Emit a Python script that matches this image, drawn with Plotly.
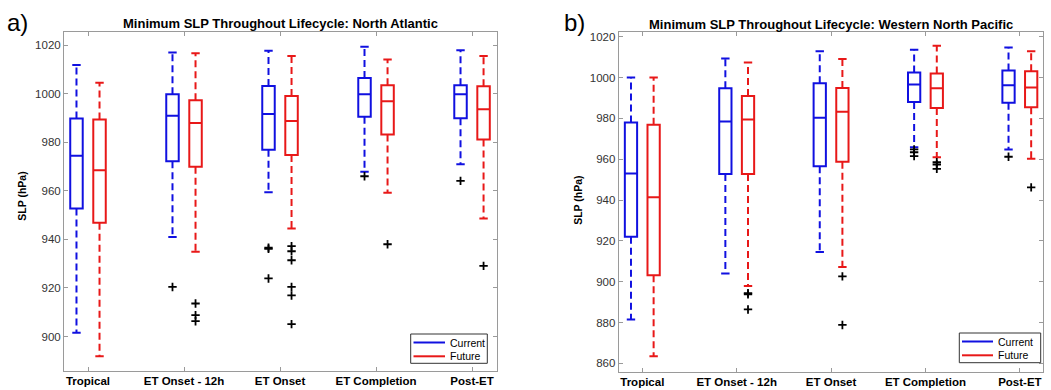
import plotly.graph_objects as go

categories = ["Tropical", "ET Onset - 12h", "ET Onset", "ET Completion", "Post-ET"]
series_names = ["Current", "Future"]
series_colors = ["#1010e0", "#e81818"]

# ---- North Atlantic ----
na_cur_lo = [901.5, 941.0, 959.4, 967.8, 970.9]
na_cur_q1 = [952.7, 972.2, 976.9, 990.5, 989.9]
na_cur_med = [974.4, 990.9, 991.6, 999.8, 999.8]
na_cur_q3 = [989.8, 999.8, 1003.2, 1006.5, 1003.5]
na_cur_hi = [1011.8, 1017.0, 1017.7, 1019.3, 1017.9]
na_cur_out = [[], [920.4], [936.6, 936.1, 923.9], [966.0], [964.1]]

na_fut_lo = [891.9, 934.9, 944.5, 959.2, 948.6]
na_fut_q1 = [946.8, 969.9, 974.7, 983.2, 981.1]
na_fut_med = [968.5, 987.9, 988.7, 996.9, 993.6]
na_fut_q3 = [989.4, 997.3, 999.0, 1003.5, 1003.1]
na_fut_hi = [1004.5, 1016.7, 1015.5, 1014.1, 1015.5]
na_fut_out = [[], [913.6, 908.8, 906.3], [937.2, 935.1, 931.4, 920.4, 916.9, 905.1], [938.0], [929.1]]

# ---- Western North Pacific ----
wnp_cur_lo = [881.5, 904.0, 914.5, 965.9, 964.8]
wnp_cur_q1 = [922.0, 952.8, 956.6, 988.0, 987.7]
wnp_cur_med = [953.0, 978.4, 980.3, 996.6, 996.2]
wnp_cur_q3 = [978.0, 994.8, 997.2, 1002.5, 1003.4]
wnp_cur_hi = [1000.0, 1009.3, 1012.9, 1013.6, 1014.7]
wnp_cur_out = [[], [], [], [964.8, 963.4, 961.5], [961.2]]

wnp_fut_lo = [863.5, 897.9, 907.2, 961.0, 960.2]
wnp_fut_q1 = [903.1, 952.8, 958.7, 985.1, 985.4]
wnp_fut_med = [941.3, 979.5, 983.2, 994.8, 995.1]
wnp_fut_q3 = [976.9, 991.0, 994.9, 1002.0, 1003.1]
wnp_fut_hi = [1000.0, 1007.4, 1009.1, 1015.6, 1012.9]
wnp_fut_out = [[], [894.4, 893.8, 886.4], [902.6, 878.8], [958.5, 957.4, 955.3], [946.2]]

na_ticks = [900, 920, 940, 960, 980, 1000, 1020]
wnp_ticks = [860, 880, 900, 920, 940, 960, 980, 1000, 1020]

W, H = 1051, 390
OFFSET = 0.12
BOXW = 0.13
FONT = "Liberation Sans, Arial, Helvetica, sans-serif"

fig = go.Figure()


def add_series(xa, ya, offset, color, lo, q1, med, q3, hi, out):
    pos = [i + 1 + offset for i in range(len(categories))]
    fig.add_trace(go.Box(
        x=pos, q1=q1, median=med, q3=q3, lowerfence=q1, upperfence=q3,
        width=BOXW, whiskerwidth=0, boxpoints=False,
        line=dict(color=color, width=2), fillcolor="rgba(255,255,255,0)",
        showlegend=False, hoverinfo="skip", xaxis=xa, yaxis=ya))
    wx, wy = [], []
    for p, a, b, c, d in zip(pos, lo, q1, q3, hi):
        wx += [p, p, None, p, p, None]
        wy += [c, d, None, b, a, None]
    fig.add_trace(go.Scatter(
        x=wx, y=wy, mode="lines", line=dict(color=color, width=2, dash="7px,4px"),
        showlegend=False, hoverinfo="skip", xaxis=xa, yaxis=ya))
    fig.add_trace(go.Scatter(
        x=pos + pos, y=list(lo) + list(hi), mode="markers",
        marker=dict(symbol="line-ew", size=6, line=dict(color=color, width=2)),
        showlegend=False, hoverinfo="skip", xaxis=xa, yaxis=ya))
    ox, oy = [], []
    for p, vals in zip(pos, out):
        for v in vals:
            ox.append(p)
            oy.append(v)
    fig.add_trace(go.Scatter(
        x=ox, y=oy, mode="markers",
        marker=dict(symbol="cross-thin", size=6, line=dict(color="black", width=1.8)),
        showlegend=False, hoverinfo="skip", xaxis=xa, yaxis=ya))


add_series("x", "y", -OFFSET, series_colors[0], na_cur_lo, na_cur_q1, na_cur_med, na_cur_q3, na_cur_hi, na_cur_out)
add_series("x", "y", OFFSET, series_colors[1], na_fut_lo, na_fut_q1, na_fut_med, na_fut_q3, na_fut_hi, na_fut_out)
add_series("x2", "y2", -OFFSET, series_colors[0], wnp_cur_lo, wnp_cur_q1, wnp_cur_med, wnp_cur_q3, wnp_cur_hi, wnp_cur_out)
add_series("x2", "y2", OFFSET, series_colors[1], wnp_fut_lo, wnp_fut_q1, wnp_fut_med, wnp_fut_q3, wnp_fut_hi, wnp_fut_out)


def px(x):
    return x / W


def py(y):
    return 1 - y / H


shapes = []
annotations = []
# manual legends (box, sample lines, labels), positioned in paper pixels
for (bx0, bx1, by0, by1, lx0, lx1) in [(410.7, 487.3, 334, 363.3, 413.5, 445.0),
                                       (959.3, 1040.7, 333, 362.7, 962.0, 993.0)]:
    shapes.append(dict(type="rect", xref="paper", yref="paper",
                       x0=px(bx0), x1=px(bx1), y0=py(by1), y1=py(by0),
                       line=dict(color="#333333", width=1), fillcolor="white", layer="above"))
    for k, (name, color) in enumerate(zip(series_names, series_colors)):
        ly = by0 + 8.5 + k * 13.8
        shapes.append(dict(type="line", xref="paper", yref="paper",
                           x0=px(lx0), x1=px(lx1), y0=py(ly), y1=py(ly),
                           line=dict(color=color, width=2), layer="above"))
        annotations.append(dict(text=name, x=px(lx1 + 3), y=py(ly), xref="paper", yref="paper",
                                xanchor="left", yanchor="middle", showarrow=False,
                                font=dict(size=10.5, color="black")))

axis_common = dict(showline=True, linecolor="#9a9a9a", linewidth=1, mirror="ticks",
                   ticks="inside", ticklen=4, tickcolor="#9a9a9a", showgrid=False,
                   zeroline=False)

annotations += [
    dict(text="<b>Minimum SLP Throughout Lifecycle: North Atlantic</b>", x=px(280.5), y=py(23.5),
         xref="paper", yref="paper", xanchor="center", yanchor="middle", showarrow=False,
         font=dict(size=13, color="black")),
    dict(text="<b>Minimum SLP Throughout Lifecycle: Western North Pacific</b>", x=px(831), y=py(24),
         xref="paper", yref="paper", xanchor="center", yanchor="middle", showarrow=False,
         font=dict(size=13, color="black")),
    dict(text="a)", x=px(5), y=py(22), xref="paper", yref="paper", xanchor="left", yanchor="middle",
         showarrow=False, font=dict(size=24, color="black")),
    dict(text="b)", x=px(562), y=py(22), xref="paper", yref="paper", xanchor="left", yanchor="middle",
         showarrow=False, font=dict(size=24, color="black")),
    dict(text="<b>SLP (hPa)</b>", x=px(21.7), y=py(196), xref="paper", yref="paper",
         xanchor="center", yanchor="middle",
         textangle=-90, showarrow=False, font=dict(size=10.5, color="black")),
    dict(text="<b>SLP (hPa)</b>", x=px(578.3), y=py(200.5), xref="paper", yref="paper",
         xanchor="center", yanchor="middle",
         textangle=-90, showarrow=False, font=dict(size=10.5, color="black")),
]

fig.update_layout(
    width=W, height=H,
    margin=dict(l=0, r=0, t=0, b=0),
    paper_bgcolor="white", plot_bgcolor="white",
    boxmode="overlay", showlegend=False,
    font=dict(family=FONT, color="#262626"),
    xaxis=dict(domain=[px(64), px(497)], range=[0.75, 5.26],
               tickvals=[1, 2, 3, 4, 5], ticktext=["<b>%s</b>" % c for c in categories],
               tickfont=dict(size=11.5, color="black"), **axis_common),
    yaxis=dict(domain=[py(370.5), py(32)], range=[886, 1025.4], tickvals=na_ticks,
               tickfont=dict(size=11.5, color="#333333"), **axis_common),
    xaxis2=dict(domain=[px(618.7), px(1042.5)], range=[0.75, 5.24], anchor="y2",
                tickvals=[1, 2, 3, 4, 5], ticktext=["<b>%s</b>" % c for c in categories],
                tickfont=dict(size=11.5, color="black"), **axis_common),
    yaxis2=dict(domain=[py(371.5), py(32)], range=[856, 1022.3], anchor="x2", tickvals=wnp_ticks,
                tickfont=dict(size=11.5, color="#333333"), **axis_common),
    shapes=shapes,
    annotations=annotations,
)

fig.write_html("out.html", config={"displayModeBar": False},
               post_script="document.body.style.margin='0';document.body.style.overflow='hidden';")
